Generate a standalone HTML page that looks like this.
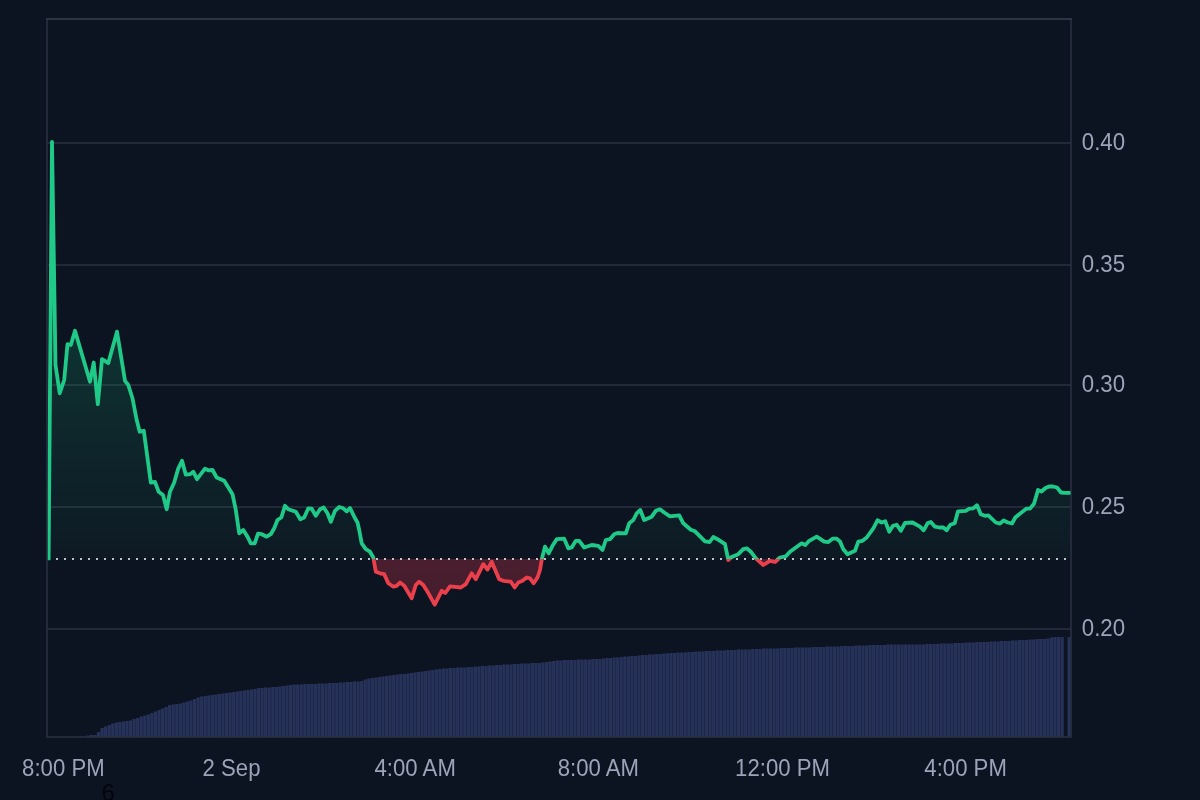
<!DOCTYPE html>
<html lang="en"><head><meta charset="utf-8"><title>Price chart</title>
<style>
html,body{margin:0;padding:0;background:#0d1421;width:1200px;height:800px;overflow:hidden}
svg{display:block;position:absolute;left:0;top:0}
text{font-family:"Liberation Sans",Arial,Helvetica,sans-serif;font-size:22px;fill:#9da3b8}
</style></head><body>
<svg width="1200" height="800" viewBox="0 0 1200 800">
<defs>
<linearGradient id="gg" gradientUnits="userSpaceOnUse" x1="0" y1="140" x2="0" y2="559">
<stop offset="0" stop-color="#16c784" stop-opacity="0.29"/>
<stop offset="1" stop-color="#16c784" stop-opacity="0.03"/>
</linearGradient>
<linearGradient id="rg" gradientUnits="userSpaceOnUse" x1="0" y1="559" x2="0" y2="610">
<stop offset="0" stop-color="#ea3950" stop-opacity="0.28"/>
<stop offset="1" stop-color="#ea3950" stop-opacity="0.24"/>
</linearGradient>
<clipPath id="up"><rect x="47.75" y="0" width="1022.75" height="559"/><rect x="47.75" y="0" width="8" height="560.2"/></clipPath>
<clipPath id="dn"><rect x="56" y="559" width="1014.5" height="300"/></clipPath>
</defs>
<rect width="1200" height="800" fill="#0d1421"/>
<g stroke="#2a3040" stroke-width="1.5" fill="none">
<line x1="47" y1="143" x2="1071" y2="143"/><line x1="47" y1="265" x2="1071" y2="265"/><line x1="47" y1="385" x2="1071" y2="385"/><line x1="47" y1="507" x2="1071" y2="507"/><line x1="47" y1="629" x2="1071" y2="629"/>
</g>
<g fill="#27325a">
<rect x="86.26" y="735.5" width="3.26" height="1.5"/><rect x="89.82" y="735.0" width="3.26" height="2.0"/><rect x="93.37" y="735.0" width="3.26" height="2.0"/><rect x="96.93" y="732.0" width="3.26" height="5.0"/><rect x="100.48" y="728.0" width="3.26" height="9.0"/><rect x="104.04" y="726.5" width="3.26" height="10.5"/><rect x="107.59" y="725.0" width="3.26" height="12.0"/><rect x="111.15" y="723.5" width="3.26" height="13.5"/><rect x="114.71" y="722.5" width="3.26" height="14.5"/><rect x="118.26" y="722.0" width="3.26" height="15.0"/><rect x="121.82" y="721.5" width="3.26" height="15.5"/><rect x="125.37" y="721.0" width="3.26" height="16.0"/><rect x="128.93" y="720.5" width="3.26" height="16.5"/><rect x="132.48" y="719.0" width="3.26" height="18.0"/><rect x="136.04" y="718.0" width="3.26" height="19.0"/><rect x="139.59" y="716.5" width="3.26" height="20.5"/><rect x="143.15" y="715.5" width="3.26" height="21.5"/><rect x="146.71" y="714.5" width="3.26" height="22.5"/><rect x="150.26" y="713.0" width="3.26" height="24.0"/><rect x="153.82" y="711.5" width="3.26" height="25.5"/><rect x="157.37" y="710.0" width="3.26" height="27.0"/><rect x="160.93" y="708.5" width="3.26" height="28.5"/><rect x="164.48" y="707.0" width="3.26" height="30.0"/><rect x="168.04" y="705.0" width="3.26" height="32.0"/><rect x="171.59" y="704.5" width="3.26" height="32.5"/><rect x="175.15" y="704.0" width="3.26" height="33.0"/><rect x="178.71" y="703.5" width="3.26" height="33.5"/><rect x="182.26" y="702.5" width="3.26" height="34.5"/><rect x="185.82" y="701.5" width="3.26" height="35.5"/><rect x="189.37" y="700.5" width="3.26" height="36.5"/><rect x="192.93" y="699.0" width="3.26" height="38.0"/><rect x="196.48" y="697.5" width="3.26" height="39.5"/><rect x="200.04" y="696.5" width="3.26" height="40.5"/><rect x="203.59" y="696.0" width="3.26" height="41.0"/><rect x="207.15" y="695.5" width="3.26" height="41.5"/><rect x="210.71" y="695.0" width="3.26" height="42.0"/><rect x="214.26" y="694.5" width="3.26" height="42.5"/><rect x="217.82" y="694.0" width="3.26" height="43.0"/><rect x="221.37" y="693.5" width="3.26" height="43.5"/><rect x="224.93" y="693.0" width="3.26" height="44.0"/><rect x="228.48" y="692.5" width="3.26" height="44.5"/><rect x="232.04" y="692.0" width="3.26" height="45.0"/><rect x="235.59" y="691.5" width="3.26" height="45.5"/><rect x="239.15" y="691.0" width="3.26" height="46.0"/><rect x="242.71" y="690.5" width="3.26" height="46.5"/><rect x="246.26" y="690.0" width="3.26" height="47.0"/><rect x="249.82" y="689.5" width="3.26" height="47.5"/><rect x="253.37" y="689.0" width="3.26" height="48.0"/><rect x="256.93" y="688.0" width="3.26" height="49.0"/><rect x="260.48" y="688.0" width="3.26" height="49.0"/><rect x="264.04" y="687.5" width="3.26" height="49.5"/><rect x="267.59" y="687.5" width="3.26" height="49.5"/><rect x="271.15" y="687.0" width="3.26" height="50.0"/><rect x="274.71" y="687.0" width="3.26" height="50.0"/><rect x="278.26" y="686.5" width="3.26" height="50.5"/><rect x="281.82" y="686.0" width="3.26" height="51.0"/><rect x="285.37" y="685.5" width="3.26" height="51.5"/><rect x="288.93" y="685.0" width="3.26" height="52.0"/><rect x="292.48" y="684.5" width="3.26" height="52.5"/><rect x="296.04" y="684.5" width="3.26" height="52.5"/><rect x="299.59" y="684.5" width="3.26" height="52.5"/><rect x="303.15" y="684.0" width="3.26" height="53.0"/><rect x="306.71" y="684.0" width="3.26" height="53.0"/><rect x="310.26" y="684.0" width="3.26" height="53.0"/><rect x="313.82" y="684.0" width="3.26" height="53.0"/><rect x="317.37" y="683.5" width="3.26" height="53.5"/><rect x="320.93" y="683.5" width="3.26" height="53.5"/><rect x="324.48" y="683.5" width="3.26" height="53.5"/><rect x="328.04" y="683.0" width="3.26" height="54.0"/><rect x="331.59" y="683.0" width="3.26" height="54.0"/><rect x="335.15" y="683.0" width="3.26" height="54.0"/><rect x="338.71" y="682.5" width="3.26" height="54.5"/><rect x="342.26" y="682.5" width="3.26" height="54.5"/><rect x="345.82" y="682.0" width="3.26" height="55.0"/><rect x="349.37" y="682.0" width="3.26" height="55.0"/><rect x="352.93" y="681.5" width="3.26" height="55.5"/><rect x="356.48" y="681.5" width="3.26" height="55.5"/><rect x="360.04" y="681.0" width="3.26" height="56.0"/><rect x="363.59" y="679.5" width="3.26" height="57.5"/><rect x="367.15" y="678.5" width="3.26" height="58.5"/><rect x="370.71" y="678.0" width="3.26" height="59.0"/><rect x="374.26" y="677.5" width="3.26" height="59.5"/><rect x="377.82" y="677.0" width="3.26" height="60.0"/><rect x="381.37" y="676.5" width="3.26" height="60.5"/><rect x="384.93" y="676.0" width="3.26" height="61.0"/><rect x="388.48" y="675.5" width="3.26" height="61.5"/><rect x="392.04" y="675.0" width="3.26" height="62.0"/><rect x="395.59" y="674.5" width="3.26" height="62.5"/><rect x="399.15" y="674.0" width="3.26" height="63.0"/><rect x="402.71" y="674.0" width="3.26" height="63.0"/><rect x="406.26" y="673.5" width="3.26" height="63.5"/><rect x="409.82" y="673.0" width="3.26" height="64.0"/><rect x="413.37" y="672.5" width="3.26" height="64.5"/><rect x="416.93" y="672.0" width="3.26" height="65.0"/><rect x="420.48" y="671.5" width="3.26" height="65.5"/><rect x="424.04" y="671.0" width="3.26" height="66.0"/><rect x="427.59" y="670.5" width="3.26" height="66.5"/><rect x="431.15" y="670.0" width="3.26" height="67.0"/><rect x="434.71" y="669.5" width="3.26" height="67.5"/><rect x="438.26" y="669.0" width="3.26" height="68.0"/><rect x="441.82" y="668.5" width="3.26" height="68.5"/><rect x="445.37" y="668.5" width="3.26" height="68.5"/><rect x="448.93" y="668.0" width="3.26" height="69.0"/><rect x="452.48" y="668.0" width="3.26" height="69.0"/><rect x="456.04" y="667.5" width="3.26" height="69.5"/><rect x="459.59" y="667.5" width="3.26" height="69.5"/><rect x="463.15" y="667.5" width="3.26" height="69.5"/><rect x="466.71" y="667.0" width="3.26" height="70.0"/><rect x="470.26" y="667.0" width="3.26" height="70.0"/><rect x="473.82" y="666.5" width="3.26" height="70.5"/><rect x="477.37" y="666.5" width="3.26" height="70.5"/><rect x="480.93" y="666.0" width="3.26" height="71.0"/><rect x="484.48" y="666.0" width="3.26" height="71.0"/><rect x="488.04" y="665.5" width="3.26" height="71.5"/><rect x="491.59" y="665.5" width="3.26" height="71.5"/><rect x="495.15" y="665.0" width="3.26" height="72.0"/><rect x="498.71" y="665.0" width="3.26" height="72.0"/><rect x="502.26" y="664.5" width="3.26" height="72.5"/><rect x="505.82" y="664.5" width="3.26" height="72.5"/><rect x="509.37" y="664.5" width="3.26" height="72.5"/><rect x="512.93" y="664.0" width="3.26" height="73.0"/><rect x="516.48" y="664.0" width="3.26" height="73.0"/><rect x="520.04" y="663.5" width="3.26" height="73.5"/><rect x="523.59" y="663.5" width="3.26" height="73.5"/><rect x="527.15" y="663.5" width="3.26" height="73.5"/><rect x="530.71" y="663.0" width="3.26" height="74.0"/><rect x="534.26" y="663.0" width="3.26" height="74.0"/><rect x="537.82" y="663.0" width="3.26" height="74.0"/><rect x="541.37" y="662.5" width="3.26" height="74.5"/><rect x="544.93" y="662.0" width="3.26" height="75.0"/><rect x="548.48" y="661.5" width="3.26" height="75.5"/><rect x="552.04" y="661.0" width="3.26" height="76.0"/><rect x="555.59" y="660.5" width="3.26" height="76.5"/><rect x="559.15" y="660.5" width="3.26" height="76.5"/><rect x="562.71" y="660.0" width="3.26" height="77.0"/><rect x="566.26" y="660.0" width="3.26" height="77.0"/><rect x="569.82" y="660.0" width="3.26" height="77.0"/><rect x="573.37" y="660.0" width="3.26" height="77.0"/><rect x="576.93" y="659.5" width="3.26" height="77.5"/><rect x="580.48" y="659.5" width="3.26" height="77.5"/><rect x="584.04" y="659.5" width="3.26" height="77.5"/><rect x="587.59" y="659.5" width="3.26" height="77.5"/><rect x="591.15" y="659.0" width="3.26" height="78.0"/><rect x="594.71" y="659.0" width="3.26" height="78.0"/><rect x="598.26" y="659.0" width="3.26" height="78.0"/><rect x="601.82" y="658.5" width="3.26" height="78.5"/><rect x="605.37" y="658.0" width="3.26" height="79.0"/><rect x="608.93" y="658.0" width="3.26" height="79.0"/><rect x="612.48" y="657.5" width="3.26" height="79.5"/><rect x="616.04" y="657.5" width="3.26" height="79.5"/><rect x="619.59" y="657.0" width="3.26" height="80.0"/><rect x="623.15" y="656.5" width="3.26" height="80.5"/><rect x="626.71" y="656.5" width="3.26" height="80.5"/><rect x="630.26" y="656.0" width="3.26" height="81.0"/><rect x="633.82" y="656.0" width="3.26" height="81.0"/><rect x="637.37" y="655.5" width="3.26" height="81.5"/><rect x="640.93" y="655.0" width="3.26" height="82.0"/><rect x="644.48" y="655.0" width="3.26" height="82.0"/><rect x="648.04" y="654.5" width="3.26" height="82.5"/><rect x="651.59" y="654.5" width="3.26" height="82.5"/><rect x="655.15" y="654.0" width="3.26" height="83.0"/><rect x="658.71" y="654.0" width="3.26" height="83.0"/><rect x="662.26" y="653.5" width="3.26" height="83.5"/><rect x="665.82" y="653.5" width="3.26" height="83.5"/><rect x="669.37" y="653.0" width="3.26" height="84.0"/><rect x="672.93" y="653.0" width="3.26" height="84.0"/><rect x="676.48" y="652.5" width="3.26" height="84.5"/><rect x="680.04" y="652.5" width="3.26" height="84.5"/><rect x="683.59" y="652.5" width="3.26" height="84.5"/><rect x="687.15" y="652.0" width="3.26" height="85.0"/><rect x="690.71" y="652.0" width="3.26" height="85.0"/><rect x="694.26" y="651.5" width="3.26" height="85.5"/><rect x="697.82" y="651.5" width="3.26" height="85.5"/><rect x="701.37" y="651.5" width="3.26" height="85.5"/><rect x="704.93" y="651.0" width="3.26" height="86.0"/><rect x="708.48" y="651.0" width="3.26" height="86.0"/><rect x="712.04" y="651.0" width="3.26" height="86.0"/><rect x="715.59" y="650.5" width="3.26" height="86.5"/><rect x="719.15" y="650.5" width="3.26" height="86.5"/><rect x="722.71" y="650.5" width="3.26" height="86.5"/><rect x="726.26" y="650.0" width="3.26" height="87.0"/><rect x="729.82" y="650.0" width="3.26" height="87.0"/><rect x="733.37" y="650.0" width="3.26" height="87.0"/><rect x="736.93" y="649.5" width="3.26" height="87.5"/><rect x="740.48" y="649.5" width="3.26" height="87.5"/><rect x="744.04" y="649.5" width="3.26" height="87.5"/><rect x="747.59" y="649.5" width="3.26" height="87.5"/><rect x="751.15" y="649.0" width="3.26" height="88.0"/><rect x="754.71" y="649.0" width="3.26" height="88.0"/><rect x="758.26" y="649.0" width="3.26" height="88.0"/><rect x="761.82" y="648.5" width="3.26" height="88.5"/><rect x="765.37" y="648.5" width="3.26" height="88.5"/><rect x="768.93" y="648.5" width="3.26" height="88.5"/><rect x="772.48" y="648.5" width="3.26" height="88.5"/><rect x="776.04" y="648.5" width="3.26" height="88.5"/><rect x="779.59" y="648.0" width="3.26" height="89.0"/><rect x="783.15" y="648.0" width="3.26" height="89.0"/><rect x="786.71" y="648.0" width="3.26" height="89.0"/><rect x="790.26" y="648.0" width="3.26" height="89.0"/><rect x="793.82" y="647.5" width="3.26" height="89.5"/><rect x="797.37" y="647.5" width="3.26" height="89.5"/><rect x="800.93" y="647.5" width="3.26" height="89.5"/><rect x="804.48" y="647.5" width="3.26" height="89.5"/><rect x="808.04" y="647.5" width="3.26" height="89.5"/><rect x="811.59" y="647.0" width="3.26" height="90.0"/><rect x="815.15" y="647.0" width="3.26" height="90.0"/><rect x="818.71" y="647.0" width="3.26" height="90.0"/><rect x="822.26" y="647.0" width="3.26" height="90.0"/><rect x="825.82" y="646.5" width="3.26" height="90.5"/><rect x="829.37" y="646.5" width="3.26" height="90.5"/><rect x="832.93" y="646.5" width="3.26" height="90.5"/><rect x="836.48" y="646.5" width="3.26" height="90.5"/><rect x="840.04" y="646.0" width="3.26" height="91.0"/><rect x="843.59" y="646.0" width="3.26" height="91.0"/><rect x="847.15" y="646.0" width="3.26" height="91.0"/><rect x="850.71" y="646.0" width="3.26" height="91.0"/><rect x="854.26" y="645.5" width="3.26" height="91.5"/><rect x="857.82" y="645.5" width="3.26" height="91.5"/><rect x="861.37" y="645.5" width="3.26" height="91.5"/><rect x="864.93" y="645.5" width="3.26" height="91.5"/><rect x="868.48" y="645.0" width="3.26" height="92.0"/><rect x="872.04" y="645.0" width="3.26" height="92.0"/><rect x="875.59" y="645.0" width="3.26" height="92.0"/><rect x="879.15" y="645.0" width="3.26" height="92.0"/><rect x="882.71" y="645.0" width="3.26" height="92.0"/><rect x="886.26" y="644.5" width="3.26" height="92.5"/><rect x="889.82" y="644.5" width="3.26" height="92.5"/><rect x="893.37" y="644.5" width="3.26" height="92.5"/><rect x="896.93" y="644.5" width="3.26" height="92.5"/><rect x="900.48" y="644.5" width="3.26" height="92.5"/><rect x="904.04" y="644.5" width="3.26" height="92.5"/><rect x="907.59" y="644.5" width="3.26" height="92.5"/><rect x="911.15" y="644.5" width="3.26" height="92.5"/><rect x="914.71" y="644.5" width="3.26" height="92.5"/><rect x="918.26" y="644.5" width="3.26" height="92.5"/><rect x="921.82" y="644.5" width="3.26" height="92.5"/><rect x="925.37" y="644.0" width="3.26" height="93.0"/><rect x="928.93" y="644.0" width="3.26" height="93.0"/><rect x="932.48" y="644.0" width="3.26" height="93.0"/><rect x="936.04" y="644.0" width="3.26" height="93.0"/><rect x="939.59" y="643.5" width="3.26" height="93.5"/><rect x="943.15" y="643.5" width="3.26" height="93.5"/><rect x="946.71" y="643.5" width="3.26" height="93.5"/><rect x="950.26" y="643.5" width="3.26" height="93.5"/><rect x="953.82" y="643.0" width="3.26" height="94.0"/><rect x="957.37" y="643.0" width="3.26" height="94.0"/><rect x="960.93" y="643.0" width="3.26" height="94.0"/><rect x="964.48" y="642.5" width="3.26" height="94.5"/><rect x="968.04" y="642.5" width="3.26" height="94.5"/><rect x="971.59" y="642.5" width="3.26" height="94.5"/><rect x="975.15" y="642.0" width="3.26" height="95.0"/><rect x="978.71" y="642.0" width="3.26" height="95.0"/><rect x="982.26" y="642.0" width="3.26" height="95.0"/><rect x="985.82" y="642.0" width="3.26" height="95.0"/><rect x="989.37" y="641.5" width="3.26" height="95.5"/><rect x="992.93" y="641.5" width="3.26" height="95.5"/><rect x="996.48" y="641.5" width="3.26" height="95.5"/><rect x="1000.04" y="641.0" width="3.26" height="96.0"/><rect x="1003.59" y="641.0" width="3.26" height="96.0"/><rect x="1007.15" y="641.0" width="3.26" height="96.0"/><rect x="1010.71" y="640.5" width="3.26" height="96.5"/><rect x="1014.26" y="640.5" width="3.26" height="96.5"/><rect x="1017.82" y="640.0" width="3.26" height="97.0"/><rect x="1021.37" y="640.0" width="3.26" height="97.0"/><rect x="1024.93" y="640.0" width="3.26" height="97.0"/><rect x="1028.48" y="639.5" width="3.26" height="97.5"/><rect x="1032.04" y="639.5" width="3.26" height="97.5"/><rect x="1035.59" y="639.0" width="3.26" height="98.0"/><rect x="1039.15" y="639.0" width="3.26" height="98.0"/><rect x="1042.71" y="639.0" width="3.26" height="98.0"/><rect x="1046.26" y="638.5" width="3.26" height="98.5"/><rect x="1049.82" y="637.5" width="3.26" height="99.5"/><rect x="1053.37" y="637.0" width="3.26" height="100.0"/><rect x="1056.93" y="637.0" width="3.26" height="100.0"/><rect x="1060.48" y="637.0" width="3.26" height="100.0"/><rect x="1067.59" y="637.0" width="3.26" height="100.0"/>
</g>
<g stroke-width="1.6" fill="none">
<path d="M47,19 L47,737 L1071,737 L1071,19" stroke="#2a3041"/>
<path d="M46.2,19 L1071.8,19" stroke="#3a4052"/>
</g>
<path d="M48.6,559.5 L52,141.8 L55.5,365 L59.7,393.3 L64.2,380 L67.5,344.2 L70.8,345 L75,330.8 L90,381.7 L93.7,362.5 L97.8,404.2 L102,359.2 L108.3,363 L117,331.7 L125,380.8 L128.3,385 L132.5,398.3 L136.7,420 L139.7,431.7 L143.8,430.8 L150.8,482.5 L155,482 L158.7,491.7 L163,495 L166.7,509.2 L170,491.7 L174.2,482.5 L178.3,468.3 L182,460.8 L185.8,474.7 L190,474.2 L193.3,471.7 L197,479.2 L205,468.7 L208.3,470.3 L212.5,470 L216.7,477.5 L224.2,480.8 L232.5,494.2 L235.8,510 L239.2,533.3 L243.3,530 L247.5,536.7 L250.8,543.3 L254.7,543.3 L258,533.7 L261.7,534.2 L266.7,536.7 L270.8,534.2 L274.2,528.3 L277.5,520 L281.3,517.5 L285,505.8 L288.3,509.2 L295.8,511.7 L300.3,519.2 L304.2,517.5 L308.3,508.3 L311.7,508.7 L315.8,515.8 L320,509.2 L323.7,507.5 L327.5,513.3 L330.8,521.7 L335,510.8 L339.2,507 L343.3,508.3 L346.7,511.3 L350,508 L354.2,516.7 L357.5,522.5 L359.2,530 L361.7,543.3 L365.8,549.2 L370,551.7 L373.3,557.5 L375.8,571.7 L380,573.3 L384.2,574.2 L388.3,583.3 L393.3,586.7 L396.7,585.8 L400,582.5 L404.2,585.8 L411.7,598.3 L415.8,585 L419.2,581.7 L423.3,585 L427.5,591.7 L434.7,604.7 L441.7,590.8 L445.3,593 L450,586.3 L460.8,587.5 L465.8,584.2 L471.7,573.3 L475.8,579.2 L483.3,564.2 L487.5,569.6 L491.7,561.7 L499.2,579.2 L503.3,580.8 L510.8,581.7 L514.7,587.5 L518.3,582.5 L522.5,580.8 L526.7,577.5 L530,578.3 L533.7,583.3 L537.5,577.5 L540,570 L542,558.3 L545,546.7 L548.7,553.3 L552.5,545.8 L556.7,539.2 L564.2,538.7 L568.3,548.3 L571.7,547.5 L575.8,540.8 L579.2,540.8 L584.2,547.5 L591.7,545 L598.3,545.8 L602.5,550 L605.8,540 L610,539.2 L614.2,534.2 L617.5,533 L625.8,533.3 L629.2,523.3 L633.3,520 L636.7,513.3 L640.3,510 L644.2,520 L651.7,516.7 L655.8,510.8 L660,509.3 L664.2,512.5 L670,516.3 L679.2,515.3 L683.3,523.3 L690.8,529.7 L695,531.3 L705,541.3 L709.7,542 L713.3,537 L717.5,539.2 L725,544.2 L728.3,560 L731.7,557 L738.3,554.2 L743.3,549.2 L746.7,548.3 L750.8,551.7 L755.8,558.3 L763.3,565 L770,560.8 L775,562 L780,557.5 L785.8,556.3 L790,551.7 L801.7,543.3 L805.3,545 L809.2,540.8 L816.7,536.7 L824.2,541.7 L828.3,542 L832.5,538.7 L836.7,538.7 L840,541.5 L843.3,549.2 L847.5,554.2 L855,550.8 L858.3,541.7 L862.5,540.8 L866.7,537.5 L873.3,528.3 L877.5,520.3 L881.7,522.5 L885.3,521.3 L889.2,531.7 L893,525.8 L896.7,524.7 L900.8,530.8 L905,523 L912.5,522.5 L920,526.7 L923.7,530.3 L927.5,523.3 L930.8,522 L935,526.7 L939.2,527.5 L943.3,527.5 L946.7,530.3 L950.3,524.7 L954.7,523.3 L958,511.3 L965.8,510.8 L969.2,508.7 L973.3,508.3 L977,505.3 L980.8,514.2 L985,515.8 L988.3,515.3 L995.8,522.5 L1000,523.6 L1003.6,520.4 L1007.8,522.5 L1012,523.5 L1015.3,517.5 L1019.2,514.2 L1026.6,508.6 L1030,508.6 L1034,503.8 L1038,490 L1041.5,491.5 L1045.5,488 L1049,486.5 L1053,486.5 L1057,487.5 L1061,492.5 L1065,492.8 L1070,492.8 L1070,559 L48.6,559 Z" fill="url(#gg)" clip-path="url(#up)"/>
<path d="M48.6,559.5 L52,141.8 L55.5,365 L59.7,393.3 L64.2,380 L67.5,344.2 L70.8,345 L75,330.8 L90,381.7 L93.7,362.5 L97.8,404.2 L102,359.2 L108.3,363 L117,331.7 L125,380.8 L128.3,385 L132.5,398.3 L136.7,420 L139.7,431.7 L143.8,430.8 L150.8,482.5 L155,482 L158.7,491.7 L163,495 L166.7,509.2 L170,491.7 L174.2,482.5 L178.3,468.3 L182,460.8 L185.8,474.7 L190,474.2 L193.3,471.7 L197,479.2 L205,468.7 L208.3,470.3 L212.5,470 L216.7,477.5 L224.2,480.8 L232.5,494.2 L235.8,510 L239.2,533.3 L243.3,530 L247.5,536.7 L250.8,543.3 L254.7,543.3 L258,533.7 L261.7,534.2 L266.7,536.7 L270.8,534.2 L274.2,528.3 L277.5,520 L281.3,517.5 L285,505.8 L288.3,509.2 L295.8,511.7 L300.3,519.2 L304.2,517.5 L308.3,508.3 L311.7,508.7 L315.8,515.8 L320,509.2 L323.7,507.5 L327.5,513.3 L330.8,521.7 L335,510.8 L339.2,507 L343.3,508.3 L346.7,511.3 L350,508 L354.2,516.7 L357.5,522.5 L359.2,530 L361.7,543.3 L365.8,549.2 L370,551.7 L373.3,557.5 L375.8,571.7 L380,573.3 L384.2,574.2 L388.3,583.3 L393.3,586.7 L396.7,585.8 L400,582.5 L404.2,585.8 L411.7,598.3 L415.8,585 L419.2,581.7 L423.3,585 L427.5,591.7 L434.7,604.7 L441.7,590.8 L445.3,593 L450,586.3 L460.8,587.5 L465.8,584.2 L471.7,573.3 L475.8,579.2 L483.3,564.2 L487.5,569.6 L491.7,561.7 L499.2,579.2 L503.3,580.8 L510.8,581.7 L514.7,587.5 L518.3,582.5 L522.5,580.8 L526.7,577.5 L530,578.3 L533.7,583.3 L537.5,577.5 L540,570 L542,558.3 L545,546.7 L548.7,553.3 L552.5,545.8 L556.7,539.2 L564.2,538.7 L568.3,548.3 L571.7,547.5 L575.8,540.8 L579.2,540.8 L584.2,547.5 L591.7,545 L598.3,545.8 L602.5,550 L605.8,540 L610,539.2 L614.2,534.2 L617.5,533 L625.8,533.3 L629.2,523.3 L633.3,520 L636.7,513.3 L640.3,510 L644.2,520 L651.7,516.7 L655.8,510.8 L660,509.3 L664.2,512.5 L670,516.3 L679.2,515.3 L683.3,523.3 L690.8,529.7 L695,531.3 L705,541.3 L709.7,542 L713.3,537 L717.5,539.2 L725,544.2 L728.3,560 L731.7,557 L738.3,554.2 L743.3,549.2 L746.7,548.3 L750.8,551.7 L755.8,558.3 L763.3,565 L770,560.8 L775,562 L780,557.5 L785.8,556.3 L790,551.7 L801.7,543.3 L805.3,545 L809.2,540.8 L816.7,536.7 L824.2,541.7 L828.3,542 L832.5,538.7 L836.7,538.7 L840,541.5 L843.3,549.2 L847.5,554.2 L855,550.8 L858.3,541.7 L862.5,540.8 L866.7,537.5 L873.3,528.3 L877.5,520.3 L881.7,522.5 L885.3,521.3 L889.2,531.7 L893,525.8 L896.7,524.7 L900.8,530.8 L905,523 L912.5,522.5 L920,526.7 L923.7,530.3 L927.5,523.3 L930.8,522 L935,526.7 L939.2,527.5 L943.3,527.5 L946.7,530.3 L950.3,524.7 L954.7,523.3 L958,511.3 L965.8,510.8 L969.2,508.7 L973.3,508.3 L977,505.3 L980.8,514.2 L985,515.8 L988.3,515.3 L995.8,522.5 L1000,523.6 L1003.6,520.4 L1007.8,522.5 L1012,523.5 L1015.3,517.5 L1019.2,514.2 L1026.6,508.6 L1030,508.6 L1034,503.8 L1038,490 L1041.5,491.5 L1045.5,488 L1049,486.5 L1053,486.5 L1057,487.5 L1061,492.5 L1065,492.8 L1070,492.8 L1070,559 L48.6,559 Z" fill="url(#rg)" clip-path="url(#dn)"/>
<line x1="48" y1="559" x2="1071" y2="559" stroke="#c0c3cb" stroke-width="2" stroke-dasharray="2 6"/>
<path d="M48.6,559.5 L52,141.8 L55.5,365 L59.7,393.3 L64.2,380 L67.5,344.2 L70.8,345 L75,330.8 L90,381.7 L93.7,362.5 L97.8,404.2 L102,359.2 L108.3,363 L117,331.7 L125,380.8 L128.3,385 L132.5,398.3 L136.7,420 L139.7,431.7 L143.8,430.8 L150.8,482.5 L155,482 L158.7,491.7 L163,495 L166.7,509.2 L170,491.7 L174.2,482.5 L178.3,468.3 L182,460.8 L185.8,474.7 L190,474.2 L193.3,471.7 L197,479.2 L205,468.7 L208.3,470.3 L212.5,470 L216.7,477.5 L224.2,480.8 L232.5,494.2 L235.8,510 L239.2,533.3 L243.3,530 L247.5,536.7 L250.8,543.3 L254.7,543.3 L258,533.7 L261.7,534.2 L266.7,536.7 L270.8,534.2 L274.2,528.3 L277.5,520 L281.3,517.5 L285,505.8 L288.3,509.2 L295.8,511.7 L300.3,519.2 L304.2,517.5 L308.3,508.3 L311.7,508.7 L315.8,515.8 L320,509.2 L323.7,507.5 L327.5,513.3 L330.8,521.7 L335,510.8 L339.2,507 L343.3,508.3 L346.7,511.3 L350,508 L354.2,516.7 L357.5,522.5 L359.2,530 L361.7,543.3 L365.8,549.2 L370,551.7 L373.3,557.5 L375.8,571.7 L380,573.3 L384.2,574.2 L388.3,583.3 L393.3,586.7 L396.7,585.8 L400,582.5 L404.2,585.8 L411.7,598.3 L415.8,585 L419.2,581.7 L423.3,585 L427.5,591.7 L434.7,604.7 L441.7,590.8 L445.3,593 L450,586.3 L460.8,587.5 L465.8,584.2 L471.7,573.3 L475.8,579.2 L483.3,564.2 L487.5,569.6 L491.7,561.7 L499.2,579.2 L503.3,580.8 L510.8,581.7 L514.7,587.5 L518.3,582.5 L522.5,580.8 L526.7,577.5 L530,578.3 L533.7,583.3 L537.5,577.5 L540,570 L542,558.3 L545,546.7 L548.7,553.3 L552.5,545.8 L556.7,539.2 L564.2,538.7 L568.3,548.3 L571.7,547.5 L575.8,540.8 L579.2,540.8 L584.2,547.5 L591.7,545 L598.3,545.8 L602.5,550 L605.8,540 L610,539.2 L614.2,534.2 L617.5,533 L625.8,533.3 L629.2,523.3 L633.3,520 L636.7,513.3 L640.3,510 L644.2,520 L651.7,516.7 L655.8,510.8 L660,509.3 L664.2,512.5 L670,516.3 L679.2,515.3 L683.3,523.3 L690.8,529.7 L695,531.3 L705,541.3 L709.7,542 L713.3,537 L717.5,539.2 L725,544.2 L728.3,560 L731.7,557 L738.3,554.2 L743.3,549.2 L746.7,548.3 L750.8,551.7 L755.8,558.3 L763.3,565 L770,560.8 L775,562 L780,557.5 L785.8,556.3 L790,551.7 L801.7,543.3 L805.3,545 L809.2,540.8 L816.7,536.7 L824.2,541.7 L828.3,542 L832.5,538.7 L836.7,538.7 L840,541.5 L843.3,549.2 L847.5,554.2 L855,550.8 L858.3,541.7 L862.5,540.8 L866.7,537.5 L873.3,528.3 L877.5,520.3 L881.7,522.5 L885.3,521.3 L889.2,531.7 L893,525.8 L896.7,524.7 L900.8,530.8 L905,523 L912.5,522.5 L920,526.7 L923.7,530.3 L927.5,523.3 L930.8,522 L935,526.7 L939.2,527.5 L943.3,527.5 L946.7,530.3 L950.3,524.7 L954.7,523.3 L958,511.3 L965.8,510.8 L969.2,508.7 L973.3,508.3 L977,505.3 L980.8,514.2 L985,515.8 L988.3,515.3 L995.8,522.5 L1000,523.6 L1003.6,520.4 L1007.8,522.5 L1012,523.5 L1015.3,517.5 L1019.2,514.2 L1026.6,508.6 L1030,508.6 L1034,503.8 L1038,490 L1041.5,491.5 L1045.5,488 L1049,486.5 L1053,486.5 L1057,487.5 L1061,492.5 L1065,492.8 L1070,492.8" fill="none" stroke="#1fca89" stroke-width="3.8" stroke-linejoin="round" stroke-linecap="round" clip-path="url(#up)"/>
<path d="M48.6,559.5 L52,141.8 L55.5,365 L59.7,393.3 L64.2,380 L67.5,344.2 L70.8,345 L75,330.8 L90,381.7 L93.7,362.5 L97.8,404.2 L102,359.2 L108.3,363 L117,331.7 L125,380.8 L128.3,385 L132.5,398.3 L136.7,420 L139.7,431.7 L143.8,430.8 L150.8,482.5 L155,482 L158.7,491.7 L163,495 L166.7,509.2 L170,491.7 L174.2,482.5 L178.3,468.3 L182,460.8 L185.8,474.7 L190,474.2 L193.3,471.7 L197,479.2 L205,468.7 L208.3,470.3 L212.5,470 L216.7,477.5 L224.2,480.8 L232.5,494.2 L235.8,510 L239.2,533.3 L243.3,530 L247.5,536.7 L250.8,543.3 L254.7,543.3 L258,533.7 L261.7,534.2 L266.7,536.7 L270.8,534.2 L274.2,528.3 L277.5,520 L281.3,517.5 L285,505.8 L288.3,509.2 L295.8,511.7 L300.3,519.2 L304.2,517.5 L308.3,508.3 L311.7,508.7 L315.8,515.8 L320,509.2 L323.7,507.5 L327.5,513.3 L330.8,521.7 L335,510.8 L339.2,507 L343.3,508.3 L346.7,511.3 L350,508 L354.2,516.7 L357.5,522.5 L359.2,530 L361.7,543.3 L365.8,549.2 L370,551.7 L373.3,557.5 L375.8,571.7 L380,573.3 L384.2,574.2 L388.3,583.3 L393.3,586.7 L396.7,585.8 L400,582.5 L404.2,585.8 L411.7,598.3 L415.8,585 L419.2,581.7 L423.3,585 L427.5,591.7 L434.7,604.7 L441.7,590.8 L445.3,593 L450,586.3 L460.8,587.5 L465.8,584.2 L471.7,573.3 L475.8,579.2 L483.3,564.2 L487.5,569.6 L491.7,561.7 L499.2,579.2 L503.3,580.8 L510.8,581.7 L514.7,587.5 L518.3,582.5 L522.5,580.8 L526.7,577.5 L530,578.3 L533.7,583.3 L537.5,577.5 L540,570 L542,558.3 L545,546.7 L548.7,553.3 L552.5,545.8 L556.7,539.2 L564.2,538.7 L568.3,548.3 L571.7,547.5 L575.8,540.8 L579.2,540.8 L584.2,547.5 L591.7,545 L598.3,545.8 L602.5,550 L605.8,540 L610,539.2 L614.2,534.2 L617.5,533 L625.8,533.3 L629.2,523.3 L633.3,520 L636.7,513.3 L640.3,510 L644.2,520 L651.7,516.7 L655.8,510.8 L660,509.3 L664.2,512.5 L670,516.3 L679.2,515.3 L683.3,523.3 L690.8,529.7 L695,531.3 L705,541.3 L709.7,542 L713.3,537 L717.5,539.2 L725,544.2 L728.3,560 L731.7,557 L738.3,554.2 L743.3,549.2 L746.7,548.3 L750.8,551.7 L755.8,558.3 L763.3,565 L770,560.8 L775,562 L780,557.5 L785.8,556.3 L790,551.7 L801.7,543.3 L805.3,545 L809.2,540.8 L816.7,536.7 L824.2,541.7 L828.3,542 L832.5,538.7 L836.7,538.7 L840,541.5 L843.3,549.2 L847.5,554.2 L855,550.8 L858.3,541.7 L862.5,540.8 L866.7,537.5 L873.3,528.3 L877.5,520.3 L881.7,522.5 L885.3,521.3 L889.2,531.7 L893,525.8 L896.7,524.7 L900.8,530.8 L905,523 L912.5,522.5 L920,526.7 L923.7,530.3 L927.5,523.3 L930.8,522 L935,526.7 L939.2,527.5 L943.3,527.5 L946.7,530.3 L950.3,524.7 L954.7,523.3 L958,511.3 L965.8,510.8 L969.2,508.7 L973.3,508.3 L977,505.3 L980.8,514.2 L985,515.8 L988.3,515.3 L995.8,522.5 L1000,523.6 L1003.6,520.4 L1007.8,522.5 L1012,523.5 L1015.3,517.5 L1019.2,514.2 L1026.6,508.6 L1030,508.6 L1034,503.8 L1038,490 L1041.5,491.5 L1045.5,488 L1049,486.5 L1053,486.5 L1057,487.5 L1061,492.5 L1065,492.8 L1070,492.8" fill="none" stroke="#ec3f4c" stroke-width="3.8" stroke-linejoin="round" stroke-linecap="round" clip-path="url(#dn)"/>
<g>
<text transform="translate(1081.8,149.9) scale(1.012,1.055)">0.40</text><text transform="translate(1081.8,271.9) scale(1.012,1.055)">0.35</text><text transform="translate(1081.8,391.9) scale(1.012,1.055)">0.30</text><text transform="translate(1081.8,513.9) scale(1.012,1.055)">0.25</text><text transform="translate(1081.8,635.9) scale(1.012,1.055)">0.20</text>
</g>
<g text-anchor="middle">
<text transform="translate(63.4,776.1) scale(1.008,1.055)">8:00 PM</text><text transform="translate(231.5,776.1) scale(1.008,1.055)">2 Sep</text><text transform="translate(415.2,776.1) scale(1.008,1.055)">4:00 AM</text><text transform="translate(598.4,776.1) scale(1.008,1.055)">8:00 AM</text><text transform="translate(782.5,776.1) scale(1.008,1.055)">12:00 PM</text><text transform="translate(965.6,776.1) scale(1.008,1.055)">4:00 PM</text>
</g>
<text x="101.5" y="801.3" style="fill:#03040f;font-size:24px">6</text>
</svg>
</body></html>
